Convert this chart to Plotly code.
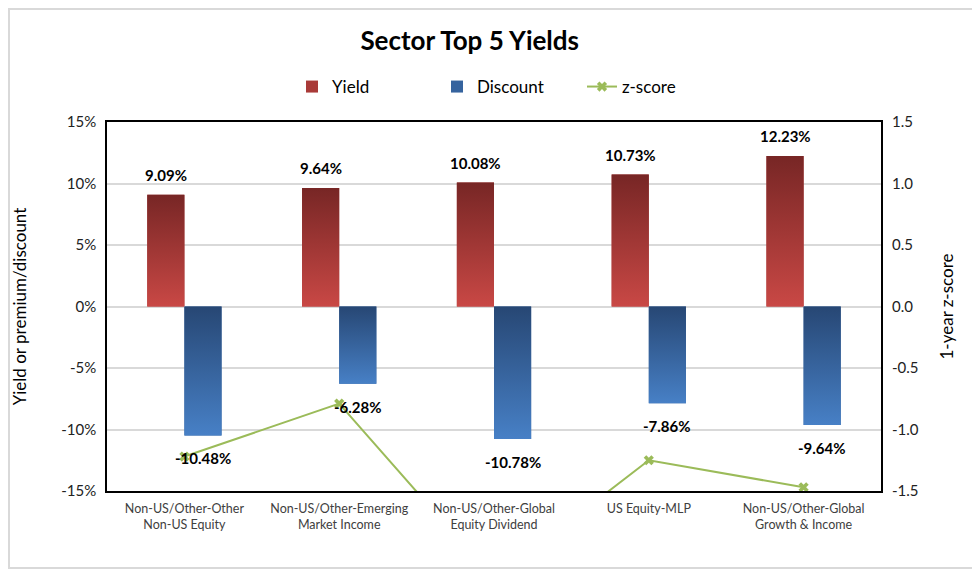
import plotly.graph_objects as go

categories = ["Non-US/Other-Other<br>Non-US Equity",
              "Non-US/Other-Emerging<br>Market Income",
              "Non-US/Other-Global<br>Equity Dividend",
              "US Equity-MLP",
              "Non-US/Other-Global<br>Growth & Income"]
yield_vals = [9.09, 9.64, 10.08, 10.73, 12.23]
discount_vals = [-10.48, -6.28, -10.78, -7.86, -9.64]
zscore_vals = [-1.22, -0.79, -2.22, -1.25, -1.47]

left_ticks = [-15, -10, -5, 0, 5, 10, 15]
left_tick_text = ["-15%", "-10%", "-5%", "0%", "5%", "10%", "15%"]
right_ticks = [-1.5, -1.0, -0.5, 0.0, 0.5, 1.0, 1.5]
right_tick_text = ["-1.5", "-1.0", "-0.5", "0.0", "0.5", "1.0", "1.5"]

FONT = "Lato"
BAR_W = 0.24
xs = list(range(len(categories)))

fig = go.Figure()

fig.add_trace(go.Bar(
    x=xs, y=yield_vals, name="Yield", width=BAR_W, offset=-BAR_W,
    marker=dict(color="#a93a38", line=dict(width=0))))
fig.add_trace(go.Bar(
    x=xs, y=discount_vals, name="Discount", width=BAR_W, offset=0,
    marker=dict(color="#35639e", line=dict(width=0))))

# gradient overlays on each bar
for i, v in zip(xs, yield_vals):
    fig.add_trace(go.Scatter(
        x=[i - BAR_W, i, i, i - BAR_W, i - BAR_W], y=[0, 0, v, v, 0],
        mode="none", fill="toself", showlegend=False, hoverinfo="skip",
        fillgradient=dict(type="vertical",
                          colorscale=[[0, "#c94845"], [1, "#772625"]])))
for i, v in zip(xs, discount_vals):
    fig.add_trace(go.Scatter(
        x=[i, i + BAR_W, i + BAR_W, i, i], y=[0, 0, v, v, 0],
        mode="none", fill="toself", showlegend=False, hoverinfo="skip",
        fillgradient=dict(type="vertical",
                          colorscale=[[0, "#4780c6"], [1, "#274774"]])))

fig.add_trace(go.Scatter(
    x=xs, y=zscore_vals, name="z-score", yaxis="y2", mode="lines+markers",
    line=dict(color="#9bbb59", width=2),
    marker=dict(symbol="x", size=9, color="#9bbb59")))

annotations = []
for i, v in zip(xs, yield_vals):
    annotations.append(dict(x=i - BAR_W / 2, y=v, xref="x", yref="y", text=f"<b>{v:.2f}%</b>",
                            showarrow=False, yshift=20, font=dict(size=15, color="black")))
for i, v in zip(xs, discount_vals):
    annotations.append(dict(x=i + BAR_W / 2, y=v, xref="x", yref="y", text=f"<b>{v:.2f}%</b>",
                            showarrow=False, yshift=-23, font=dict(size=15, color="black")))

W, H = 972, 562
ml, mr, mt, mb = 99, 99, 114, 79
pw, ph = W - ml - mr, H - mt - mb

fig.update_layout(
    width=W, height=H,
    margin=dict(l=ml, r=mr, t=mt, b=mb, autoexpand=False),
    paper_bgcolor="white", plot_bgcolor="white",
    font=dict(family=FONT, color="#000000"),
    title=dict(text="<b>Sector Top 5 Yields</b>", x=0.475, xanchor="center",
               y=1 - 33 / H, yanchor="middle", font=dict(size=26, color="black")),
    legend=dict(orientation="h", x=(302 - 8 - ml - 10) / pw, xanchor="left", y=1 + 35 / ph,
                yanchor="middle", font=dict(size=17, color="#000000"), entrywidth=100,
                traceorder="normal"),
    barmode="overlay",
    showlegend=True,
    annotations=annotations,
    xaxis=dict(range=[-0.5, 4.5], tickvals=xs, ticktext=categories, automargin=False,
               tickfont=dict(size=12.5, color="#404040"), ticklabelstandoff=5,
               showgrid=False, zeroline=False, showline=True, mirror=True,
               linecolor="black", linewidth=1.5, ticks=""),
    yaxis=dict(range=[-15, 15], tickvals=left_ticks, ticktext=left_tick_text, automargin=False,
               tickfont=dict(size=15, color="#222222"), ticklabelstandoff=6,
               title=dict(text="Yield or premium/discount", font=dict(size=17), standoff=30),
               showgrid=True, gridcolor="#d9d9d9", gridwidth=1.5,
               zeroline=True, zerolinecolor="#d9d9d9", zerolinewidth=1.5,
               showline=True, mirror=True, linecolor="black", linewidth=1.5),
    yaxis2=dict(range=[-1.5, 1.5], tickvals=right_ticks, ticktext=right_tick_text, automargin=False,
                overlaying="y", side="right", showgrid=False, zeroline=False,
                tickfont=dict(size=15, color="#222222"), ticklabelstandoff=10,
                title=dict(text="1-year z-score", font=dict(size=17), standoff=23)),
    shapes=[dict(type="rect", xref="paper", yref="paper",
                 x0=-(ml - 1) / pw, x1=1 + (mr - 2) / pw,
                 y0=-(mb - 2) / ph, y1=1 + (mt - 1) / ph,
                 line=dict(color="#d9d9d9", width=2), layer="below")],
)

fig.write_html("out.html")
